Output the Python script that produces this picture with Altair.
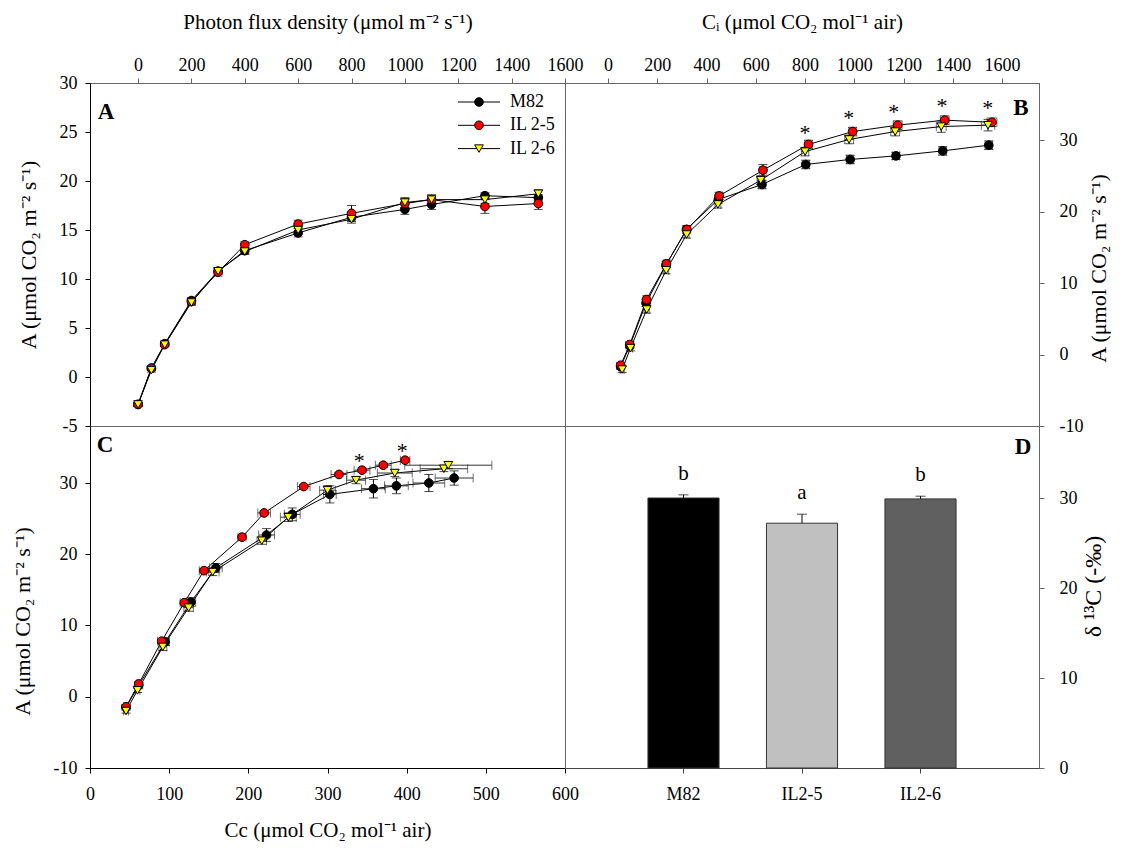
import altair as alt
import pandas as pd

FONT = "Liberation Serif"
GENOTYPES = ["M82", "IL 2-5", "IL 2-6"]
POINT_FILLS = ["#000000", "#ff0000", "#ffff00"]
POINT_SHAPES = ["circle", "circle", "triangle-down"]

# ---------------- Panel A : light response ----------------
ppfd = [0, 50, 100, 200, 300, 400, 600, 800, 1000, 1100, 1300, 1500]
a_m82 = [-2.8, 0.9, 3.4, 7.8, 10.8, 12.9, 14.7, 16.3, 17.1, 17.6, 18.5, 18.3]
a_m82_err = [0.2, 0.2, 0.2, 0.3, 0.3, 0.3, 0.4, 0.4, 0.5, 0.5, 0.3, 0.3]
a_il25 = [-2.8, 0.9, 3.3, 7.7, 10.7, 13.5, 15.6, 16.7, 17.7, 18.1, 17.4, 17.7]
a_il25_err = [0.2, 0.2, 0.2, 0.3, 0.4, 0.3, 0.4, 0.8, 0.5, 0.4, 0.7, 0.6]
a_il26 = [-2.8, 0.7, 3.3, 7.6, 10.8, 12.8, 15.0, 16.1, 17.8, 18.1, 18.1, 18.7]
a_il26_err = [0.2, 0.2, 0.2, 0.3, 0.3, 0.3, 0.4, 0.4, 0.5, 0.5, 0.4, 0.4]

# ---------------- Panel B : A / Ci ----------------
ci_m82 = [51, 88, 154, 235, 318, 448, 625, 803, 983, 1169, 1359, 1546]
b_m82 = [-1.7, 1.2, 7.2, 12.5, 17.5, 21.7, 23.8, 26.6, 27.3, 27.8, 28.5, 29.3]
b_m82_err = [0.4, 0.4, 0.5, 0.5, 0.5, 0.5, 0.6, 0.6, 0.6, 0.5, 0.6, 0.6]
ci_m82_err = [8, 8, 10, 10, 10, 12, 15, 15, 15, 15, 15, 15]
ci_il25 = [51, 88, 156, 237, 320, 451, 629, 814, 993, 1176, 1367, 1559]
b_il25 = [-1.5, 1.4, 7.7, 12.7, 17.5, 22.2, 25.8, 29.4, 31.2, 32.1, 32.8, 32.5]
b_il25_err = [0.4, 0.4, 0.5, 0.5, 0.5, 0.5, 0.8, 0.6, 0.6, 0.6, 0.6, 0.6]
ci_il25_err = [8, 8, 10, 10, 10, 12, 15, 15, 15, 18, 18, 20]
ci_il26 = [57, 91, 157, 236, 319, 446, 620, 800, 979, 1166, 1353, 1543]
b_il26 = [-2.1, 0.9, 6.3, 11.8, 16.8, 21.0, 24.4, 28.4, 30.1, 31.2, 31.9, 32.1]
b_il26_err = [0.4, 0.4, 0.5, 0.5, 0.5, 0.5, 0.6, 0.6, 0.6, 0.6, 0.8, 0.8]
ci_il26_err = [8, 8, 10, 10, 10, 12, 15, 15, 18, 18, 20, 27]
b_star_x = [800, 977, 1160, 1356, 1542]
b_star_y = [31.6, 33.7, 34.5, 35.3, 35.0]

# ---------------- Panel C : A / Cc ----------------
cc_m82 = [45.5, 61.5, 95, 127.5, 159, 223, 255.5, 303, 358, 387, 428, 460]
c_m82 = [-1.5, 1.6, 7.7, 13.3, 18.1, 22.7, 25.6, 28.4, 29.2, 29.6, 30.0, 30.7]
c_m82_err = [0.4, 0.4, 0.5, 0.6, 0.6, 0.9, 0.9, 1.2, 1.3, 1.1, 1.2, 1.0]
cc_m82_err = [3, 4, 5, 6, 8, 10, 10, 8, 15, 15, 20, 24]
cc_il25 = [45.5, 61.5, 90.5, 119, 144, 192, 220, 270, 314.5, 343.6, 370.5, 398]
c_il25 = [-1.4, 1.8, 7.8, 13.2, 17.7, 22.4, 25.8, 29.5, 31.2, 31.8, 32.5, 33.2]
c_il25_err = [0.3, 0.3, 0.3, 0.3, 0.3, 0.3, 0.3, 0.3, 0.3, 0.3, 0.3, 0.3]
cc_il25_err = [3, 3, 5, 5, 6, 5, 8, 8, 10, 10, 10, 6]
cc_il26 = [45.5, 60, 92, 124.6, 155, 217, 250.5, 300, 336, 385, 447, 452.6]
c_il26 = [-2.0, 0.9, 7.0, 12.5, 17.5, 21.9, 25.2, 29.0, 30.4, 31.4, 32.0, 32.5]
c_il26_err = [0.3, 0.3, 0.5, 0.5, 0.5, 0.5, 0.6, 0.6, 0.5, 0.5, 0.4, 0.5]
cc_il26_err = [3, 3, 5, 6, 8, 6, 10, 10, 12, 22, 30, 55]
c_star_x = [340, 394.5]
c_star_y = [33.6, 35.0]

# ---------------- Panel D : delta 13C ----------------
d_genotypes = ["M82", "IL2-5", "IL2-6"]
d13c = [30.0, 27.2, 29.9]
d13c_err = [0.35, 1.0, 0.3]
d_letters = ["b", "a", "b"]
d_fills = ["#000000", "#c0c0c0", "#606060"]


def make_long(xs, ys, yerrs, xerrs):
    rows = []
    for g, xv, yv, ye, xe in zip(GENOTYPES, xs, ys, yerrs, xerrs):
        for i in range(len(xv)):
            rows.append({"genotype": g, "idx": i, "x": xv[i], "y": yv[i],
                         "ylo": yv[i] - ye[i], "yhi": yv[i] + ye[i],
                         "xlo": xv[i] - xe[i], "xhi": xv[i] + xe[i]})
    return pd.DataFrame(rows)


fill_enc = alt.Fill("genotype:N", scale=alt.Scale(domain=GENOTYPES, range=POINT_FILLS), legend=None)
shape_enc = alt.Shape("genotype:N", scale=alt.Scale(domain=GENOTYPES, range=POINT_SHAPES), legend=None)
HYPHEN_LABELS = "'' + datum.value"


def panel_letter(t, px, py):
    return alt.Chart(pd.DataFrame({"t": [t]})).mark_text(
        font=FONT, fontSize=23, fontWeight="bold", color="black", align="center", baseline="middle"
    ).encode(x=alt.value(px), y=alt.value(py), text="t:N")


def stars(xs, ys):
    return alt.Chart(pd.DataFrame({"sx": xs, "sy": ys})).mark_text(
        text="*", font=FONT, fontSize=22, color="black", baseline="alphabetic", dy=11
    ).encode(x="sx:Q", y="sy:Q")


def curve_panel(df, xscale, yscale, xaxis, yaxis, w, h, with_xerr, extra):
    base = alt.Chart(df)
    X = alt.X("x:Q", scale=xscale, axis=xaxis)
    Y = alt.Y("y:Q", scale=yscale, axis=yaxis)
    layers = [base.mark_line(color="black", strokeWidth=1).encode(X, Y, detail="genotype:N", order="idx:Q")]
    if with_xerr:
        layers.append(base.mark_rule(color="#333333", strokeWidth=1).encode(x="xlo:Q", x2="xhi:Q", y="y:Q"))
        layers.append(base.mark_tick(orient="vertical", size=9, thickness=1, color="#333333").encode(x="xlo:Q", y="y:Q"))
        layers.append(base.mark_tick(orient="vertical", size=9, thickness=1, color="#333333").encode(x="xhi:Q", y="y:Q"))
    layers.append(base.mark_rule(color="black", strokeWidth=1).encode(x="x:Q", y="ylo:Q", y2="yhi:Q"))
    layers.append(base.mark_tick(orient="horizontal", size=9, thickness=1, color="black").encode(x="x:Q", y="ylo:Q"))
    layers.append(base.mark_tick(orient="horizontal", size=9, thickness=1, color="black").encode(x="x:Q", y="yhi:Q"))
    layers.append(base.mark_point(filled=True, stroke="black", strokeWidth=1, size=75, opacity=1).encode(
        X, Y, fill=fill_enc, shape=shape_enc))
    layers += extra
    return alt.layer(*layers).properties(width=w, height=h)


GRAY = "#666666"
A_TITLE = "A (μmol CO₂ m⁻² s⁻¹)"

# ---- legend (panel A) ----
legend_df = pd.DataFrame({"genotype": GENOTYPES, "row": [0, 1, 2]})
leg_base = alt.Chart(legend_df).transform_calculate(ly="19 + datum.row * 23.3")
LY = alt.Y("ly:Q", scale=None)
legend_layers = [
    leg_base.mark_rule(color="black", strokeWidth=1).encode(x=alt.value(368), x2=alt.value(410), y=LY),
    leg_base.mark_point(filled=True, stroke="black", strokeWidth=1, size=75, opacity=1).encode(
        x=alt.value(389), y=LY, fill=fill_enc, shape=shape_enc),
    leg_base.mark_text(font=FONT, fontSize=18, align="left", baseline="middle", color="black").encode(
        x=alt.value(420), y=LY, text="genotype:N"),
]

df_a = make_long([ppfd, ppfd, ppfd], [a_m82, a_il25, a_il26],
                 [a_m82_err, a_il25_err, a_il26_err], [[0] * 12] * 3)
panel_a = curve_panel(
    df_a,
    alt.Scale(domain=[-180, 1600], nice=False, zero=False),
    alt.Scale(domain=[-5, 30], nice=False, zero=False),
    alt.Axis(orient="top", values=list(range(0, 1601, 200)), format="d",
             title="Photon flux density  (μmol m⁻² s⁻¹)", titlePadding=24, labelPadding=4,
             domainColor=GRAY, tickColor=GRAY),
    alt.Axis(orient="left", values=list(range(-5, 31, 5)), labelExpr=HYPHEN_LABELS, title=A_TITLE,
             titleFontSize=22, titlePadding=19, labelPadding=8),
    475, 343, False, legend_layers + [panel_letter("A", 16, 29)],
)

df_b = make_long([ci_m82, ci_il25, ci_il26], [b_m82, b_il25, b_il26],
                 [b_m82_err, b_il25_err, b_il26_err], [ci_m82_err, ci_il25_err, ci_il26_err])
panel_b = curve_panel(
    df_b,
    alt.Scale(domain=[-175, 1750], nice=False, zero=False),
    alt.Scale(domain=[-10, 38], nice=False, zero=False),
    alt.Axis(orient="top", values=list(range(0, 1601, 200)), format="d",
             title="Cᵢ (μmol CO₂ mol⁻¹ air)", titlePadding=24, labelPadding=4,
             domainColor=GRAY, tickColor=GRAY),
    alt.Axis(orient="right", values=[-10, 0, 10, 20, 30], labelExpr=HYPHEN_LABELS, title=A_TITLE,
             titleAngle=270, titleFontSize=22, titlePadding=28, labelPadding=15, titleY=185,
             domainColor=GRAY, tickColor=GRAY),
    474, 343, True, [stars(b_star_x, b_star_y), panel_letter("B", 456, 25)],
)

df_c = make_long([cc_m82, cc_il25, cc_il26], [c_m82, c_il25, c_il26],
                 [c_m82_err, c_il25_err, c_il26_err], [cc_m82_err, cc_il25_err, cc_il26_err])
panel_c = curve_panel(
    df_c,
    alt.Scale(domain=[0, 600], nice=False, zero=False),
    alt.Scale(domain=[-10, 38], nice=False, zero=False),
    alt.Axis(orient="bottom", values=list(range(0, 601, 100)), format="d",
             title="Cc (μmol CO₂ mol⁻¹ air)", titlePadding=16, labelPadding=12),
    alt.Axis(orient="left", values=[-10, 0, 10, 20, 30], labelExpr=HYPHEN_LABELS, title=A_TITLE,
             titleFontSize=22, titlePadding=19, labelPadding=8, titleY=195),
    475, 342, True, [stars(c_star_x, c_star_y), panel_letter("C", 15, 19)],
)

# ---- panel D ----
d_df = pd.DataFrame({"line": d_genotypes, "d13c": d13c, "err": d13c_err,
                     "letter": d_letters, "barfill": d_fills})
d_df["top"] = d_df["d13c"] + d_df["err"]
d_base = alt.Chart(d_df)
DXS = alt.Scale(domain=d_genotypes, paddingInner=0.4, paddingOuter=0.7)
DX = alt.X("line:N", sort=d_genotypes, scale=DXS,
           axis=alt.Axis(orient="bottom", title=None, labelAngle=0, labelPadding=12,
                         domainColor="#444444", tickColor="#444444"))
DX2 = alt.X("line:N", sort=d_genotypes)
DY = alt.Y("d13c:Q", scale=alt.Scale(domain=[0, 38], nice=False, zero=False),
           axis=alt.Axis(orient="right", values=[0, 10, 20, 30], format="d", title="δ ¹³C (-‰)",
                         titleAngle=270, titleFontSize=24, titlePadding=28, labelPadding=15,
                         titleY=160, domainColor=GRAY, tickColor=GRAY))
panel_d = alt.layer(
    d_base.mark_bar(stroke="#333333", strokeWidth=1).encode(DX, DY, fill=alt.Fill("barfill:N", scale=None)),
    d_base.mark_rule(color="black", strokeWidth=1).encode(x=DX2, y="d13c:Q", y2="top:Q"),
    d_base.mark_tick(orient="horizontal", size=10, thickness=1, color="black").encode(x=DX2, y="top:Q"),
    d_base.mark_text(font=FONT, fontSize=21, baseline="alphabetic", dy=-15, color="black").encode(
        x=DX2, y="top:Q", text="letter:N"),
    panel_letter("D", 458, 21),
).properties(width=474, height=342)

chart = alt.concat(panel_a, panel_b, panel_c, panel_d, columns=2, spacing=0, bounds="flush").configure_view(
    stroke=GRAY, strokeWidth=1
).configure_axis(
    labelFont=FONT, titleFont=FONT, labelFontSize=18, titleFontSize=21, labelColor="black",
    titleColor="black", titleFontWeight="normal", grid=False, tickSize=5, labelFlush=False,
    labelOverlap=False, domainColor="black", tickColor="black"
).properties(padding={"left": 2, "top": 2, "right": 0, "bottom": 5}, background="white")

chart.save("out.html", embed_options={"renderer": "svg", "actions": False})
